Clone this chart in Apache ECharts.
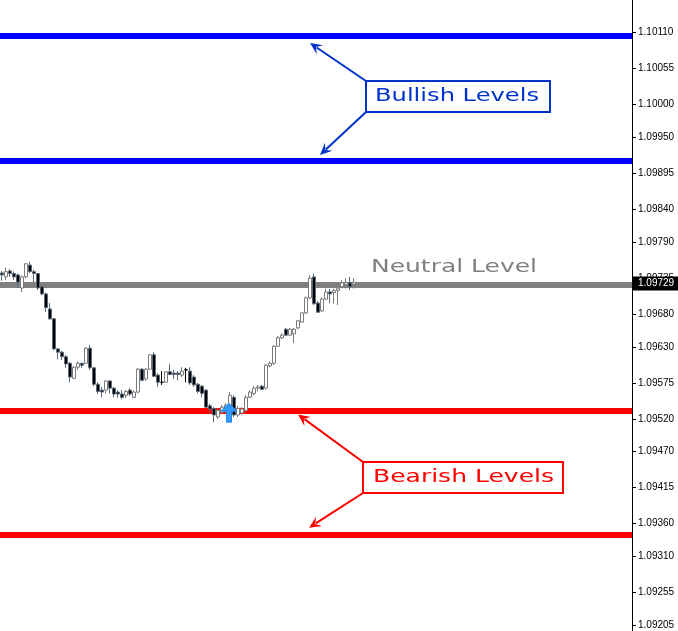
<!DOCTYPE html>
<html><head><meta charset="utf-8">
<script src="https://cdn.jsdelivr.net/npm/echarts@6/dist/echarts.min.js"></script>
<style>html,body{margin:0;padding:0;background:#fff}#c{width:678px;height:631px}</style>
</head><body><div id="c"></div>
<script>
// candles: [open, close, low, high]
const candles = [
[1.09743,1.09740,1.09731,1.09746],[1.09737,1.09745,1.09732,1.09751],[1.09746,1.09742,1.09737,1.09749],[1.09742,1.09737,1.09732,1.09745],
[1.09740,1.09729,1.09720,1.09742],[1.09720,1.09737,1.09714,1.09739],[1.09737,1.09757,1.09735,1.09758],[1.09755,1.09745,1.09743,1.09760],
[1.09745,1.09742,1.09729,1.09748],[1.09742,1.09720,1.09717,1.09743],[1.09722,1.09711,1.09709,1.09725],[1.09711,1.09690,1.09683,1.09713],
[1.09688,1.09673,1.09671,1.09697],[1.09673,1.09627,1.09625,1.09674],[1.09627,1.09622,1.09611,1.09628],[1.09622,1.09615,1.09610,1.09624],
[1.09615,1.09604,1.09598,1.09618],[1.09605,1.09584,1.09576,1.09607],[1.09582,1.09599,1.09581,1.09601],[1.09599,1.09605,1.09595,1.09608],
[1.09605,1.09602,1.09598,1.09606],[1.09605,1.09628,1.09604,1.09630],[1.09628,1.09598,1.09595,1.09633],[1.09598,1.09573,1.09570,1.09599],
[1.09573,1.09562,1.09558,1.09576],[1.09564,1.09561,1.09553,1.09569],[1.09564,1.09578,1.09559,1.09579],[1.09578,1.09567,1.09559,1.09579],
[1.09567,1.09558,1.09553,1.09569],[1.09561,1.09558,1.09552,1.09564],[1.09558,1.09553,1.09550,1.09564],[1.09556,1.09562,1.09552,1.09564],
[1.09564,1.09558,1.09555,1.09567],[1.09553,1.09561,1.09552,1.09564],[1.09561,1.09596,1.09559,1.09598],[1.09596,1.09579,1.09578,1.09598],
[1.09581,1.09596,1.09578,1.09598],[1.09596,1.09618,1.09595,1.09619],[1.09618,1.09585,1.09584,1.09622],[1.09587,1.09576,1.09569,1.09590],
[1.09576,1.09576,1.09572,1.09593],[1.09576,1.09592,1.09575,1.09593],[1.09592,1.09588,1.09587,1.09604],[1.09590,1.09588,1.09581,1.09595],
[1.09590,1.09588,1.09579,1.09593],[1.09587,1.09593,1.09584,1.09599],[1.09595,1.09595,1.09576,1.09598],[1.09593,1.09575,1.09572,1.09599],
[1.09584,1.09572,1.09569,1.09587],[1.09573,1.09562,1.09559,1.09575],[1.09570,1.09559,1.09553,1.09572],[1.09564,1.09538,1.09536,1.09565],
[1.09540,1.09535,1.09530,1.09543],[1.09536,1.09526,1.09515,1.09538],[1.09523,1.09533,1.09520,1.09536],[1.09530,1.09538,1.09527,1.09541],
[1.09533,1.09541,1.09529,1.09544],[1.09538,1.09556,1.09530,1.09561],[1.09553,1.09526,1.09523,1.09556],[1.09526,1.09536,1.09523,1.09540],
[1.09529,1.09535,1.09526,1.09538],[1.09533,1.09553,1.09530,1.09556],[1.09553,1.09561,1.09552,1.09564],[1.09559,1.09567,1.09556,1.09570],
[1.09567,1.09569,1.09562,1.09572],[1.09570,1.09565,1.09564,1.09572],[1.09567,1.09602,1.09565,1.09604],[1.09601,1.09605,1.09599,1.09608],
[1.09605,1.09631,1.09602,1.09633],[1.09631,1.09644,1.09630,1.09647],[1.09644,1.09648,1.09642,1.09651],[1.09657,1.09648,1.09647,1.09659],
[1.09648,1.09657,1.09647,1.09659],[1.09650,1.09657,1.09636,1.09659],[1.09659,1.09670,1.09657,1.09671],[1.09668,1.09682,1.09667,1.09683],
[1.09682,1.09705,1.09680,1.09707],[1.09705,1.09735,1.09703,1.09740],[1.09737,1.09696,1.09694,1.09742],[1.09697,1.09683,1.09682,1.09700],
[1.09685,1.09703,1.09683,1.09706],[1.09703,1.09714,1.09702,1.09719],[1.09714,1.09711,1.09697,1.09719],[1.09713,1.09716,1.09696,1.09719],
[1.09716,1.09719,1.09694,1.09720],[1.09722,1.09728,1.09720,1.09732],[1.09725,1.09728,1.09719,1.09735],[1.09728,1.09722,1.09717,1.09737],
[1.09726,1.09729,1.09719,1.09735]
];
const tickValues = [1.10110,1.10055,1.10000,1.09950,1.09895,1.09840,1.09790,1.09735,1.09680,1.09630,1.09575,1.09520,1.09470,1.09415,1.09360,1.09310,1.09255,1.09205];
const bullishLevels = [1.10105, 1.09914];
const neutralLevels = [1.09725];
const bearishLevels = [1.09533, 1.09343];
const currentPrice = 1.09729;
const buySignal = [56, 1.09544]; // [bar index, price at arrow tip]
const slotCount = 158;

const slots = [];
for (let i = 0; i < slotCount; i++) slots.push(String(i));

const items = candles.map(c => c[0] === c[1]
  ? { value: c, itemStyle: { borderColor: '#000', borderColor0: '#000' } }
  : c);

function levelSeries(vals, color) {
  return { type: 'line', data: [], silent: true, z: 1,
    markLine: { silent: true, precision: 5, symbol: ['none', 'none'], label: { show: false }, animation: false,
      lineStyle: { width: 6, type: 'solid', color: color }, data: vals.map(v => ({ yAxis: v })) } };
}

const chart = echarts.init(document.getElementById('c'));
chart.setOption({
  animation: false,
  backgroundColor: '#ffffff',
  grid: { left: 0, right: 46, top: 0, bottom: 0, containLabel: false },
  xAxis: { type: 'category', data: slots, boundaryGap: true, show: false },
  yAxis: {
    type: 'value', position: 'right', min: 1.09196, max: 1.10160, scale: true,
    axisLine: { show: true, lineStyle: { color: '#000', width: 1 } },
    axisTick: { show: true, length: 4, lineStyle: { color: '#000' }, customValues: tickValues },
    axisLabel: { show: true, margin: 6, color: '#000', fontSize: 10, fontFamily: 'Liberation Sans',
      customValues: tickValues, formatter: v => v.toFixed(5) },
    splitLine: { show: false }
  },
  series: [
    levelSeries(bullishLevels, '#0000ff'),
    levelSeries(neutralLevels, '#808080'),
    levelSeries(bearishLevels, '#ff0000'),
    {
      type: 'candlestick', data: items, barWidth: 3, z: 5, silent: true,
      itemStyle: { color: '#ffffff', color0: '#000000', borderColor: '#7a7a7a', borderColor0: '#5a6a7a', borderWidth: 1 }
    }
  ]
});

const py = v => chart.convertToPixel({ yAxisIndex: 0 }, v);
const px = i => chart.convertToPixel({ xAxisIndex: 0 }, i);
const mctx = document.createElement('canvas').getContext('2d');
function tw(text, size, fam) { mctx.font = size + 'px "' + fam + '"'; return mctx.measureText(text).width; }

function label(text, x, y, targetW, color) {
  const size = 17, fam = 'DejaVu Sans';
  return { type: 'text', x: x, y: y, scaleX: targetW / tw(text, size, fam), z: 20,
    style: { text: text, fontSize: size, fontFamily: fam, fill: color, align: 'left', verticalAlign: 'middle' } };
}
function arrow(sx, sy, tx, ty, color) {
  const dx = tx - sx, dy = ty - sy, L = Math.hypot(dx, dy), ux = dx / L, uy = dy / L, nx = -uy, ny = ux;
  const hl = 12, hw = 5.5;
  return [
    { type: 'line', z: 20, shape: { x1: sx, y1: sy, x2: tx - ux * 8, y2: ty - uy * 8 }, style: { stroke: color, lineWidth: 2 } },
    { type: 'polygon', z: 20, shape: { points: [[tx, ty], [tx - ux * hl + nx * hw, ty - uy * hl + ny * hw],
      [tx - ux * hl * 0.6, ty - uy * hl * 0.6], [tx - ux * hl - nx * hw, ty - uy * hl - ny * hw]] }, style: { fill: color } }
  ];
}

const blue = '#0033cc', red = '#ff0000';
const g = [];
g.push(...arrow(366, 81, 310, py(bullishLevels[0]) + 7, blue));
g.push(...arrow(366, 112, 320, py(bullishLevels[1]) - 6, blue));
g.push({ type: 'rect', z: 19, shape: { x: 366, y: 81, width: 184, height: 31 }, style: { fill: '#fff', stroke: blue, lineWidth: 2 } });
g.push(label('Bullish Levels', 375, 97, 164, blue));

g.push(...arrow(363, 462, 298, py(bearishLevels[0]) + 4, red));
g.push(...arrow(363, 493, 309, py(bearishLevels[1]) - 7, red));
g.push({ type: 'rect', z: 19, shape: { x: 363, y: 462, width: 200, height: 31 }, style: { fill: '#fff', stroke: red, lineWidth: 2 } });
g.push(label('Bearish Levels', 373, 478, 181, red));

g.push(label('Neutral Level', 371, py(neutralLevels[0]) - 17, 166, '#808080'));

// current price tag
const cy = py(currentPrice) + 1.5;
g.push({ type: 'rect', z: 30, shape: { x: 633, y: cy - 7, width: 45, height: 14 }, style: { fill: '#000' } });
g.push({ type: 'text', z: 31, x: 638, y: cy, style: { text: currentPrice.toFixed(5), fill: '#fff', fontSize: 10,
  fontFamily: 'Liberation Sans', align: 'left', verticalAlign: 'middle' } });

// buy signal arrow
const bx = px(buySignal[0]) + 3, by = py(buySignal[1]);
g.push({ type: 'polygon', z: 25, shape: { points: [[bx, by], [bx + 8, by + 8], [bx + 2.5, by + 8], [bx + 2.5, by + 19],
  [bx - 2.5, by + 19], [bx - 2.5, by + 8], [bx - 8, by + 8]] }, style: { fill: '#3399ff', stroke: '#2a86e6', lineWidth: 1 } });

chart.setOption({ graphic: g });
</script>
</body></html>
